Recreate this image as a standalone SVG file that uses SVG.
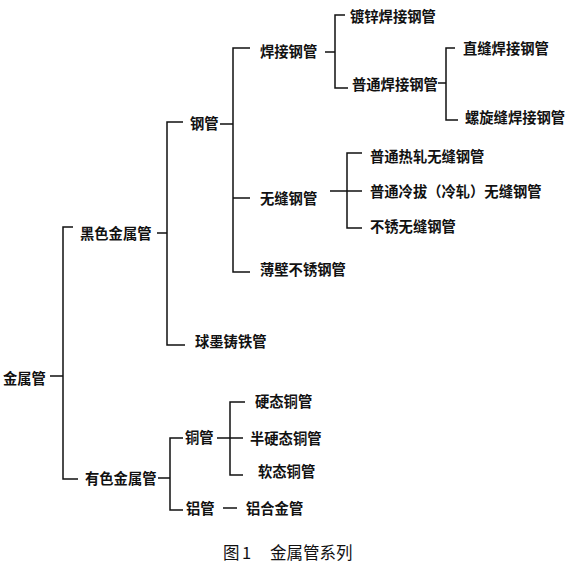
<svg xmlns="http://www.w3.org/2000/svg" width="570" height="567" viewBox="0 0 570 567">
<style>
.n text{font-family:"Noto Sans CJK SC","Noto Sans CJK JP",sans-serif;font-size:14.3px;font-weight:bold;fill:#111;dominant-baseline:central}
.c path{fill:none;stroke:#111;stroke-width:1.5}
.cap{font-family:"Noto Sans CJK SC",sans-serif;font-size:16.5px;fill:#111;dominant-baseline:central}
</style>
<rect width="570" height="567" fill="#fff"/>
<g class="c" id="connectors">
<path d="M50 376H63M73 227H63V479H78"/>
<path d="M157 233H167M183 122H167V345H185"/>
<path d="M158 478H170M183 438H170V510H183"/>
<path d="M220 124H233M250 48H233V272H250M233 198H250"/>
<path d="M325 52H335M345 15H335V88H348"/>
<path d="M438 83H446M455 48H446V120H458"/>
<path d="M330 191H362M362 153H347V228H362"/>
<path d="M217 438H243M245 402H230V475H243"/>
<path d="M223 508H237"/>
</g>
<g class="n">
<g id="n-jinshuguan"><text x="3" y="377">金属管</text></g>
<g id="n-heise"><text x="80" y="232">黑色金属管</text></g>
<g id="n-youse"><text x="85" y="477">有色金属管</text></g>
<g id="n-gangguan"><text x="190" y="122">钢管</text></g>
<g id="n-qiumo"><text x="195" y="340">球墨铸铁管</text></g>
<g id="n-hanjie"><text x="260" y="50">焊接钢管</text></g>
<g id="n-wufeng"><text x="260" y="197">无缝钢管</text></g>
<g id="n-baobi"><text x="260" y="268">薄壁不锈钢管</text></g>
<g id="n-duxin"><text x="350" y="15">镀锌焊接钢管</text></g>
<g id="n-putonghanjie"><text x="352" y="83">普通焊接钢管</text></g>
<g id="n-zhifeng"><text x="463" y="47">直缝焊接钢管</text></g>
<g id="n-luoxuan"><text x="465" y="116">螺旋缝焊接钢管</text></g>
<g id="n-rezha"><text x="370" y="155">普通热轧无缝钢管</text></g>
<g id="n-lengba"><text x="370" y="190">普通冷拔（冷轧）无缝钢管</text></g>
<g id="n-buxiu"><text x="370" y="225">不锈无缝钢管</text></g>
<g id="n-tongguan"><text x="185" y="436">铜管</text></g>
<g id="n-lvguan"><text x="186" y="507">铝管</text></g>
<g id="n-yingtai"><text x="255" y="400">硬态铜管</text></g>
<g id="n-banying"><text x="250" y="437">半硬态铜管</text></g>
<g id="n-ruantai"><text x="258" y="470">软态铜管</text></g>
<g id="n-lvhejin"><text x="246" y="507">铝合金管</text></g>
</g>
<text class="cap" y="552"><tspan x="223">图</tspan><tspan x="242">1</tspan><tspan x="270">金属管系列</tspan></text>
</svg>
